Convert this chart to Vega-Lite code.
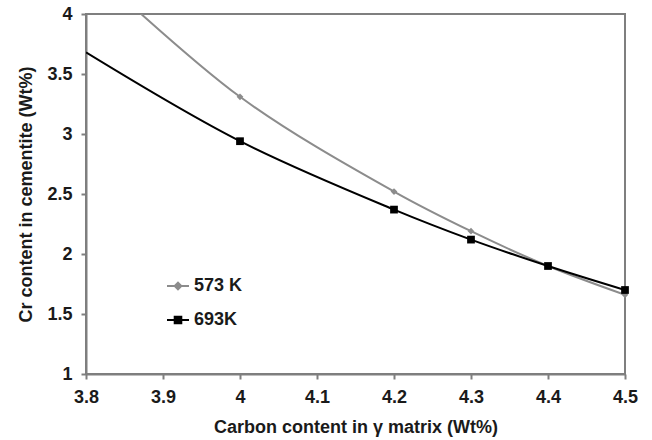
{
  "$schema": "https://vega.github.io/schema/vega-lite/v6.json",
  "width": 539,
  "height": 360,
  "autosize": {"type": "none"},
  "padding": {"left": 86, "top": 14, "right": 27, "bottom": 66},
  "background": "white",
  "config": {
    "view": {"stroke": "#7f7f7f", "strokeWidth": 2},
    "font": "Liberation Sans",
    "axis": {
      "grid": false,
      "domainColor": "#7f7f7f",
      "domainWidth": 2,
      "tickColor": "#7f7f7f",
      "tickWidth": 2,
      "tickSize": 5,
      "labelFont": "Liberation Sans",
      "labelFontWeight": "bold",
      "labelFontSize": 18,
      "labelColor": "#1a1a1a",
      "labelFlush": false,
      "labelOverlap": false,
      "format": "~g",
      "titleFont": "Liberation Sans",
      "titleFontWeight": "bold",
      "titleFontSize": 18,
      "titleColor": "#1a1a1a"
    }
  },
  "data": {
    "values": [
      {"series": "573 K", "x": 3.8, "y": 4.42},
      {"series": "573 K", "x": 4.0, "y": 3.31},
      {"series": "573 K", "x": 4.2, "y": 2.52},
      {"series": "573 K", "x": 4.3, "y": 2.19},
      {"series": "573 K", "x": 4.4, "y": 1.9},
      {"series": "573 K", "x": 4.5, "y": 1.66},
      {"series": "693K", "x": 3.8, "y": 3.68},
      {"series": "693K", "x": 4.0, "y": 2.94},
      {"series": "693K", "x": 4.2, "y": 2.37},
      {"series": "693K", "x": 4.3, "y": 2.12},
      {"series": "693K", "x": 4.4, "y": 1.9},
      {"series": "693K", "x": 4.5, "y": 1.7}
    ]
  },
  "encoding": {
    "x": {
      "field": "x", "type": "quantitative",
      "scale": {"domain": [3.8, 4.5], "nice": false, "zero": false},
      "axis": {"values": [3.8, 3.9, 4.0, 4.1, 4.2, 4.3, 4.4, 4.5], "title": "Carbon content in γ matrix (Wt%)", "labelPadding": 9, "titlePadding": 12}
    },
    "y": {
      "field": "y", "type": "quantitative",
      "scale": {"domain": [1, 4], "nice": false, "zero": false},
      "axis": {"values": [1, 1.5, 2, 2.5, 3, 3.5, 4], "title": "Cr content in cementite (Wt%)", "labelPadding": 9, "titlePadding": 11}
    }
  },
  "layer": [
    {
      "mark": {"type": "line", "interpolate": "catmull-rom", "strokeWidth": 2, "clip": true},
      "encoding": {
        "color": {
          "field": "series", "type": "nominal",
          "scale": {"domain": ["573 K", "693K"], "range": ["#8c8c8c", "#000000"]},
          "legend": {
            "title": null,
            "orient": "none",
            "legendX": 80,
            "legendY": 260,
            "symbolType": "M-1,0H1M-0.3,-0.3H0.3V0.3H-0.3Z",
            "symbolSize": 484,
            "symbolStrokeWidth": 2,
            "rowPadding": 13,
            "labelFont": "Liberation Sans",
            "labelFontWeight": "bold",
            "labelFontSize": 18,
            "labelColor": "#1a1a1a",
            "labelOffset": 4,
            "encode": {
              "symbols": {
                "update": {
                  "shape": {"signal": "datum.value === '573 K' ? 'M-1,0H1M0,-0.3L0.3,0L0,0.3L-0.3,0Z' : 'M-1,0H1M-0.3,-0.3H0.3V0.3H-0.3Z'"},
                  "size": {"value": 484},
                  "fill": {"signal": "datum.value === '573 K' ? '#8c8c8c' : '#000000'"},
                  "stroke": {"signal": "datum.value === '573 K' ? '#8c8c8c' : '#000000'"},
                  "strokeWidth": {"value": 2},
                  "fillOpacity": {"value": 1},
                  "opacity": {"value": 1}
                }
              }
            }
          }
        }
      }
    },
    {
      "transform": [{"filter": "datum.x >= 4 && datum.series === '573 K'"}],
      "mark": {"type": "point", "filled": true, "opacity": 1, "shape": "diamond", "size": 45, "color": "#8c8c8c"}
    },
    {
      "transform": [{"filter": "datum.x >= 4 && datum.series === '693K'"}],
      "mark": {"type": "point", "filled": true, "opacity": 1, "shape": "square", "size": 60, "color": "#000000"}
    }
  ]
}
